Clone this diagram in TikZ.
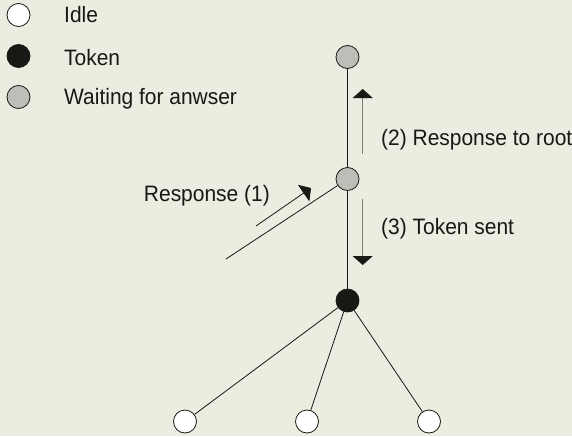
\documentclass[tikz,border=0pt]{standalone}
\usepackage{fontspec}
\setmainfont{Liberation Sans}
\newfontfamily\lblfont[FakeStretch=0.94]{Liberation Sans}
\usetikzlibrary{arrows.meta}
\definecolor{bg}{RGB}{236,236,224}
\definecolor{waitgray}{RGB}{190,190,185}
\definecolor{ink}{RGB}{24,24,20}
\definecolor{shaft}{RGB}{125,125,120}
\begin{document}
\begin{tikzpicture}[x=1pt,y=-1pt,
  state/.style={circle,draw=ink,line width=0.8pt,minimum size=23pt,inner sep=0pt},
  idle/.style={state,fill=white},
  token/.style={state,fill=ink},
  waiting/.style={state,fill=waitgray},
  lbl/.style={font=\lblfont\fontsize{22.3}{26}\selectfont,text=ink,inner sep=0pt},
  edge/.style={draw=ink,line width=0.8pt},
  msg/.style={draw=shaft,line width=1pt,-{Triangle[length=9pt,width=20pt,color=ink]}},
  msgslant/.style={msg,draw=ink,line width=0.8pt}]
\fill[bg] (0,0) rectangle (572,436);
\useasboundingbox (0,0) rectangle (572,436);
% legend
\foreach \y/\base/\kind/\ktext in {15/22.7/idle/Idle,56/65/token/Token,97/104/waiting/Waiting for anwser}
{
    \node[\kind] (key-\kind) at (18.5,\y) {};
    \node[lbl,anchor=base west] (txt-\kind) at (64,\base) {\ktext};
}
% tree
\node[waiting] (root) at (347.5,57) {};
\node[waiting] (mid) at (347.5,179) {};
\node[token] (tok) at (347.5,300.5) {};
\foreach \i/\x in {1/185,2/307,3/429}
{
    \node[idle] (leaf\i) at (\x,421.5) {};
}
\coordinate (far) at (226,259);
\draw[edge] (root) -- (mid);
\draw[edge] (mid) -- (tok);
\draw[edge] (mid) -- (far);
\foreach \i in {1,2,3}
{
    \draw[edge] (tok) -- (leaf\i);
}
% messages
\coordinate (m1a) at (256,226);
\coordinate (m1b) at (311,188);
\coordinate (m2a) at (362.7,154);
\coordinate (m2b) at (362.7,89);
\coordinate (m3a) at (362.7,199);
\coordinate (m3b) at (362.7,265);
\draw[msgslant] (m1a) -- (m1b);
\draw[msg] (m2a) -- (m2b);
\draw[msg] (m3a) -- (m3b);
\node[lbl,anchor=base east] (lbl-resp) at (270,201) {Response (1)};
\node[lbl,anchor=base west] (lbl-root) at (381,145) {(2) Response to root};
\node[lbl,anchor=base west] (lbl-sent) at (381,234) {(3) Token sent};
\end{tikzpicture}
\end{document}
